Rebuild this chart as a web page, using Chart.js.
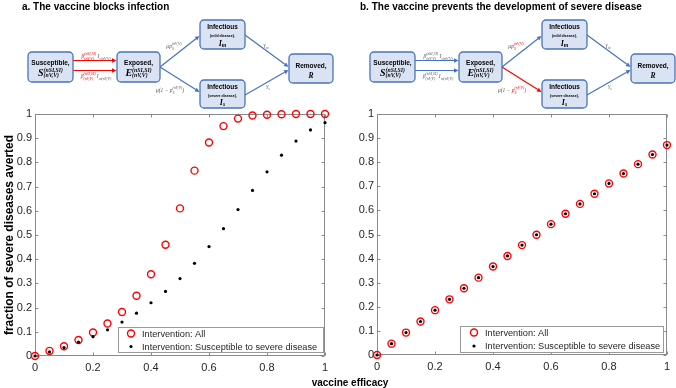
<!DOCTYPE html>
<html>
<head>
<meta charset="utf-8">
<script src="https://cdn.jsdelivr.net/npm/chart.js@4.4.1/dist/chart.umd.min.js"></script>
<style>
html, body { margin: 0; padding: 0; background: #fff; }
#wrap { position: relative; width: 676px; height: 388px; overflow: hidden; }
canvas { position: absolute; top: 0; }
#c1 { left: 0; }
#c2 { left: 338px; }
</style>
</head>
<body>
<div id="wrap">
  <canvas id="c1" width="676" height="388"></canvas>
  <canvas id="c2" width="338" height="388"></canvas>
</div>
<script>
// vaccine efficacy values (x)
const efficacy = [0, 0.05, 0.1, 0.15, 0.2, 0.25, 0.3, 0.35, 0.4, 0.45, 0.5,
                  0.55, 0.6, 0.65, 0.7, 0.75, 0.8, 0.85, 0.9, 0.95, 1];

// panel a: the vaccine blocks infection
const blocksAll = [0, 0.021, 0.04, 0.066, 0.097, 0.134, 0.182, 0.249, 0.338, 0.46, 0.61,
                   0.766, 0.882, 0.95, 0.981, 0.994, 0.997, 0.999, 1.0, 1.0, 1.0];
const blocksSusceptible = [0, 0.017, 0.035, 0.057, 0.08, 0.108, 0.14, 0.177, 0.22, 0.267, 0.32,
                           0.383, 0.452, 0.526, 0.605, 0.684, 0.761, 0.83, 0.888, 0.934, 0.964];

// panel b: the vaccine prevents the development of severe disease
const preventsAll = [0, 0.047, 0.093, 0.139, 0.186, 0.231, 0.277, 0.321, 0.367, 0.411, 0.456,
                     0.499, 0.543, 0.586, 0.627, 0.669, 0.712, 0.753, 0.792, 0.832, 0.871];
const preventsSusceptible = [0, 0.047, 0.093, 0.139, 0.186, 0.231, 0.277, 0.321, 0.367, 0.411, 0.456,
                             0.499, 0.543, 0.586, 0.627, 0.669, 0.712, 0.753, 0.792, 0.832, 0.871];

const xTickLabels = ['0', '0.2', '0.4', '0.6', '0.8', '1'];
const yTickLabels = ['0', '0.1', '0.2', '0.3', '0.4', '0.5', '0.6', '0.7', '0.8', '0.9', '1'];
const seriesLabels = ['Intervention: All', 'Intervention: Susceptible to severe disease'];
const panelTitles = ['a. The vaccine blocks infection',
                     'b. The vaccine prevents the development of severe disease'];
const yTitle = 'fraction of severe diseases averted';
const xTitle = 'vaccine efficacy';

const RED = '#ff0000', BLUE = '#4472c4', LAB = '#595959', AXIS = '#8a8a8a', TXT = '#262626';

function pts(arr) { return efficacy.map((x, i) => ({x: x, y: arr[i]})); }

// ---------- diagram helpers ----------
function arrow(ctx, x1, y1, x2, y2, color) {
  const a = Math.atan2(y2 - y1, x2 - x1), L = 4.5, W = 2.2;
  ctx.save();
  ctx.strokeStyle = color; ctx.fillStyle = color; ctx.lineWidth = 1.2;
  ctx.beginPath(); ctx.moveTo(x1, y1);
  ctx.lineTo(x2 - L * Math.cos(a), y2 - L * Math.sin(a)); ctx.stroke();
  ctx.beginPath();
  ctx.moveTo(x2, y2);
  ctx.lineTo(x2 - L * Math.cos(a) + W * Math.sin(a), y2 - L * Math.sin(a) - W * Math.cos(a));
  ctx.lineTo(x2 - L * Math.cos(a) - W * Math.sin(a), y2 - L * Math.sin(a) + W * Math.cos(a));
  ctx.closePath(); ctx.fill();
  ctx.restore();
}

function box(ctx, x, y, w, h) {
  ctx.save();
  ctx.beginPath(); ctx.roundRect(x, y, w, h, 4);
  ctx.fillStyle = '#dae3f3'; ctx.fill();
  ctx.strokeStyle = '#4a74b5'; ctx.lineWidth = 1.3; ctx.stroke();
  ctx.restore();
}

function segWidth(ctx, s) {
  ctx.font = s.bf; const w = ctx.measureText(s.b).width;
  ctx.font = s.sf || s.bf;
  const ws = Math.max(s.sup ? ctx.measureText(s.sup).width : 0, s.sub ? ctx.measureText(s.sub).width : 0);
  return w + ws;
}

function mathLine(ctx, cx, y, segs) {
  const total = segs.reduce((a, s) => a + segWidth(ctx, s), 0);
  let x = cx - total / 2;
  ctx.textAlign = 'left'; ctx.textBaseline = 'alphabetic';
  segs.forEach(s => {
    ctx.fillStyle = s.c; ctx.font = s.bf; ctx.fillText(s.b, x, y);
    const w = ctx.measureText(s.b).width;
    ctx.font = s.sf || s.bf;
    let ws = 0;
    if (s.sup) { ctx.fillText(s.sup, x + w, y - s.up); ws = ctx.measureText(s.sup).width; }
    if (s.sub) { ctx.fillText(s.sub, x + w, y + s.dn); ws = Math.max(ws, ctx.measureText(s.sub).width); }
    x += w + ws;
  });
}

function centerText(ctx, t, x, y, font, color) {
  ctx.font = font; ctx.fillStyle = color || '#000';
  ctx.textAlign = 'center'; ctx.textBaseline = 'alphabetic';
  ctx.fillText(t, x, y);
}

const BOXF = 'bold 6.5px "Liberation Sans"';
const TINYF = 'bold 3.6px "Liberation Sans"';
const MB = 'bold italic 10px "Liberation Serif"', MS = 'bold italic 5.8px "Liberation Serif"';
const LB = 'italic 5.5px "Liberation Serif"', LS = 'italic 3.9px "Liberation Serif"';

function drawDiagram(ctx, ox, variant) {
  const A = variant === 'a';
  ctx.save();
  // arrows first, boxes cover their ends
  arrow(ctx, ox + 73, 60.5, ox + 116.5, 60.5, A ? RED : BLUE);
  arrow(ctx, ox + 73, 70.5, ox + 116.5, 70.5, A ? RED : BLUE);
  arrow(ctx, ox + 160, 67, ox + 199.5, 36, BLUE);
  arrow(ctx, ox + 160, 67, ox + 199.5, 92, A ? BLUE : RED);
  arrow(ctx, ox + 245, 35, ox + 288.5, 67, BLUE);
  arrow(ctx, ox + 245, 95, ox + 288.5, 70, BLUE);

  // arrow labels
  const bc = A ? RED : LAB;
  mathLine(ctx, ox + 96, 58, [
    {b: 'β', sup: '(nSI,SI)', sub: '(nV,V)', c: bc, bf: LB, sf: LS, up: 2.8, dn: 1.6},
    {b: ' I', sub: 's(nV,V)', c: LAB, bf: LB, sf: LS, up: 2.8, dn: 1.6}]);
  mathLine(ctx, ox + 96, 78, [
    {b: 'β', sup: '(nSI,SI)', sub: '(nV,V)', c: bc, bf: LB, sf: LS, up: 2.8, dn: 1.6},
    {b: ' I', sub: 'm(nV,V)', c: LAB, bf: LB, sf: LS, up: 2.8, dn: 1.6}]);
  const pc = A ? LAB : RED;
  mathLine(ctx, ox + 174, 48, [
    {b: 'μ', c: LAB, bf: LB},
    {b: 'p', sup: '(nV,V)', sub: 'S', c: pc, bf: LB, sf: LS, up: 2.8, dn: 1.6}]);
  mathLine(ctx, ox + 170, 92, [
    {b: 'μ(1 − ', c: LAB, bf: LB},
    {b: 'p', sup: '(nV,V)', sub: 'S', c: pc, bf: LB, sf: LS, up: 2.8, dn: 1.6},
    {b: ')', c: LAB, bf: LB}]);
  mathLine(ctx, ox + 266, 47, [{b: 'γ', sub: 'm', c: LAB, bf: LB, sf: LS, dn: 1.6}]);
  mathLine(ctx, ox + 268, 88, [{b: 'γ', sub: 's', c: LAB, bf: LB, sf: LS, dn: 1.6}]);

  // boxes
  box(ctx, ox + 28, 52, 45, 30);
  centerText(ctx, 'Susceptible,', ox + 50.5, 64.5, BOXF);
  mathLine(ctx, ox + 50.5, 76, [{b: 'S', sup: '(nSI,SI)', sub: '(nV,V)', c: '#000', bf: MB, sf: MS, up: 4.2, dn: 1.2}]);

  box(ctx, ox + 117, 52, 43, 30);
  centerText(ctx, 'Exposed,', ox + 138.5, 64.5, BOXF);
  mathLine(ctx, ox + 138.5, 76, [{b: 'E', sup: '(nSI,SI)', sub: '(nV,V)', c: '#000', bf: MB, sf: MS, up: 4.2, dn: 1.2}]);

  box(ctx, ox + 200, 20, 45, 29);
  centerText(ctx, 'Infectious', ox + 222.5, 29, BOXF);
  centerText(ctx, '(mild disease),', ox + 222.5, 36.5, TINYF);
  mathLine(ctx, ox + 222.5, 45.5, [{b: 'I', sub: 'm', c: '#000', bf: 'bold italic 8px "Liberation Serif"', sf: MS, dn: 1.2}]);

  box(ctx, ox + 200, 80, 45, 28);
  centerText(ctx, 'Infectious', ox + 222.5, 89, BOXF);
  centerText(ctx, '(severe disease),', ox + 222.5, 96.5, TINYF);
  mathLine(ctx, ox + 222.5, 105, [{b: 'I', sub: 's', c: '#000', bf: 'bold italic 8px "Liberation Serif"', sf: MS, dn: 1.2}]);

  box(ctx, ox + 289, 54, 44, 29);
  centerText(ctx, 'Removed,', ox + 311, 67.5, BOXF);
  centerText(ctx, 'R', ox + 311, 77.5, 'bold italic 7.5px "Liberation Serif"');
  ctx.restore();
}

// ---------- panel plugin: diagram, title, box, ticks, legend ----------
function panelPlugin(cfg) {
  return {
    id: 'panel_' + cfg.variant,
    beforeDatasetsDraw: (chart) => {
      const ctx = chart.ctx, a = chart.chartArea;
      const xs = chart.scales.x, ys = chart.scales.y;
      ctx.save();
      ctx.strokeStyle = AXIS; ctx.lineWidth = 1;
      const L = Math.round(a.left) + 0.5, R = Math.round(a.right) - 0.5;
      const T = Math.round(a.top) + 0.5, B = Math.round(a.bottom) - 0.5;
      ctx.strokeRect(L, T, R - L, B - T);
      ctx.beginPath();
      xs.ticks.forEach(t => {
        const px = Math.round(xs.getPixelForValue(t.value)) + 0.5;
        ctx.moveTo(px, B); ctx.lineTo(px, B - 3);
        ctx.moveTo(px, T); ctx.lineTo(px, T + 3);
      });
      ys.ticks.forEach(t => {
        const py = Math.round(ys.getPixelForValue(t.value)) + 0.5;
        ctx.moveTo(L, py); ctx.lineTo(L + 3, py);
        ctx.moveTo(R, py); ctx.lineTo(R - 3, py);
      });
      ctx.stroke();
      ctx.restore();
    },
    afterDatasetsDraw: (chart) => {
      const ctx = chart.ctx, lg = cfg.legend;
      ctx.save();
      ctx.fillStyle = '#fff'; ctx.strokeStyle = '#9a9a9a'; ctx.lineWidth = 1;
      ctx.fillRect(lg.x, lg.y, lg.w, lg.h);
      ctx.strokeRect(lg.x + 0.5, lg.y + 0.5, lg.w, lg.h);
      const ds = chart.data.datasets;
      // row 1: red circle
      ctx.beginPath(); ctx.arc(lg.mx, lg.r1, 3.5, 0, Math.PI * 2);
      ctx.strokeStyle = RED; ctx.lineWidth = 1.4; ctx.stroke();
      // row 2: black dot
      ctx.beginPath(); ctx.arc(lg.mx, lg.r2, 1.6, 0, Math.PI * 2);
      ctx.fillStyle = '#000'; ctx.fill();
      ctx.font = '9.2px "Liberation Sans"'; ctx.fillStyle = TXT;
      ctx.textAlign = 'left'; ctx.textBaseline = 'middle';
      ctx.fillText(ds[0].label, lg.tx, lg.r1 + 0.5);
      ctx.fillText(ds[1].label, lg.tx, lg.r2 + 0.5);
      ctx.restore();
    },
    afterDraw: (chart) => {
      const ctx = chart.ctx;
      ctx.save();
      ctx.font = 'bold 10px "Liberation Sans"'; ctx.fillStyle = '#000';
      ctx.textAlign = 'left'; ctx.textBaseline = 'alphabetic';
      ctx.fillText(cfg.title, cfg.titleX, 9.5);
      drawDiagram(ctx, cfg.ox, cfg.variant);
      if (cfg.xTitle) {
        ctx.font = 'bold 10px "Liberation Sans"'; ctx.fillStyle = '#000';
        ctx.textAlign = 'center'; ctx.textBaseline = 'middle';
        ctx.fillText(cfg.xTitle, 350, 383);
      }
      ctx.restore();
    }
  };
}

function makeChart(id, allVals, susVals, opts) {
  return new Chart(document.getElementById(id), {
    type: 'scatter',
    data: {
      datasets: [
        {
          label: seriesLabels[0],
          data: pts(allVals),
          pointStyle: 'circle',
          pointRadius: 3.5,
          pointBorderWidth: 1.4,
          borderColor: RED,
          backgroundColor: 'rgba(0,0,0,0)',
          pointHoverRadius: 3.5,
          clip: false,
          order: 1
        },
        {
          label: seriesLabels[1],
          data: pts(susVals),
          pointStyle: 'circle',
          pointRadius: 1.6,
          pointBorderWidth: 0,
          borderColor: '#000',
          backgroundColor: '#000',
          pointHoverRadius: 1.6,
          clip: false,
          order: 0
        }
      ]
    },
    options: {
      animation: false,
      responsive: false,
      events: [],
      layout: { padding: opts.padding },
      plugins: {
        legend: { display: false },
        tooltip: { enabled: false },
        title: { display: false }
      },
      scales: {
        x: {
          type: 'linear',
          min: 0,
          max: 1,
          grid: { display: false, drawTicks: false },
          border: { display: false },
          ticks: {
            stepSize: 0.2,
            padding: 5,
            color: TXT,
            font: { family: 'Liberation Sans', size: 11 },
            maxRotation: 0,
            callback: (v, i) => xTickLabels[i]
          },
          afterFit: (s) => { s.height = opts.xHeight; }
        },
        y: {
          type: 'linear',
          min: 0,
          max: 1,
          grid: { display: false, drawTicks: false },
          border: { display: false },
          title: {
            display: !!opts.yTitle,
            text: opts.yTitle || '',
            color: '#000',
            font: { family: 'Liberation Sans', size: 12, weight: 'bold' },
            padding: { top: 2, bottom: 0 }
          },
          ticks: {
            stepSize: 0.1,
            padding: 3,
            color: TXT,
            font: { family: 'Liberation Sans', size: 11 },
            callback: (v, i) => yTickLabels[i]
          },
          afterFit: (s) => { s.width = opts.yWidth; }
        }
      }
    },
    plugins: [panelPlugin(opts.panel)]
  });
}

const chartA = makeChart('c1', blocksAll, blocksSusceptible, {
  padding: { top: 114, right: 351, left: 0, bottom: 0 },
  xHeight: 32,
  yWidth: 35,
  yTitle: yTitle,
  panel: {
    variant: 'a', ox: 0, title: panelTitles[0], titleX: 22, xTitle: xTitle,
    legend: { x: 118, y: 327, w: 205, h: 25, mx: 131, tx: 142, r1: 333.5, r2: 346.5 }
  }
});

const chartB = makeChart('c2', preventsAll, preventsSusceptible, {
  padding: { top: 114, right: 9, left: 0, bottom: 0 },
  xHeight: 33,
  yWidth: 39,
  panel: {
    variant: 'b', ox: 4, title: panelTitles[1], titleX: 22,
    legend: { x: 122, y: 326, w: 203, h: 26, mx: 136, tx: 147, r1: 332.5, r2: 346 }
  }
});
</script>
</body>
</html>
